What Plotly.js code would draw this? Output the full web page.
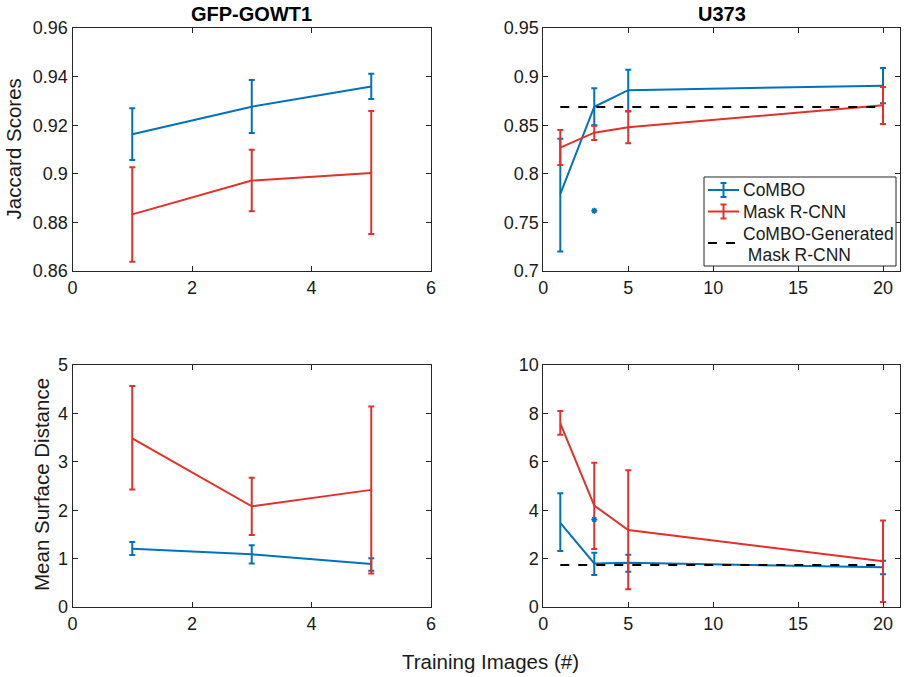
<!DOCTYPE html>
<html>
<head>
<meta charset="utf-8">
<script src="https://cdn.plot.ly/plotly-3.0.1.min.js"></script>
<style>html,body{margin:0;padding:0;background:#fff;}#chart{width:906px;height:677px;}</style>
</head>
<body>
<div id="chart"></div>
<script>
// ---------- data ----------
const panelTitles = ["GFP-GOWT1", "U373"];
const seriesNames = ["CoMBO", "Mask R-CNN", "CoMBO-Generated", " Mask R-CNN"];
const xLabel = "Training Images (#)";
const yLabelJac = "Jaccard Scores";
const yLabelMsd = "Mean Surface Distance";

const xGFP = [1, 3, 5];
const xU373 = [1, 3, 5, 20];

// GFP-GOWT1 Jaccard
const gfpJacCombo   = [0.9163, 0.9276, 0.9359];
const gfpJacComboHi = [0.9270, 0.9386, 0.9412];
const gfpJacComboLo = [0.9057, 0.9168, 0.9308];
const gfpJacMask    = [0.8833, 0.8972, 0.9003];
const gfpJacMaskHi  = [0.9027, 0.9099, 0.9258];
const gfpJacMaskLo  = [0.8638, 0.8846, 0.8752];

// GFP-GOWT1 Mean Surface Distance
const gfpMsdCombo   = [1.205, 1.089, 0.888];
const gfpMsdComboHi = [1.343, 1.275, 1.006];
const gfpMsdComboLo = [1.074, 0.900, 0.750];
const gfpMsdMask    = [3.485, 2.080, 2.420];
const gfpMsdMaskHi  = [4.566, 2.670, 4.140];
const gfpMsdMaskLo  = [2.430, 1.490, 0.690];

// U373 Jaccard
const u373JacCombo   = [0.779, 0.869, 0.886, 0.8906];
const u373JacComboHi = [0.836, 0.888, 0.907, 0.9088];
const u373JacComboLo = [0.720, 0.850, 0.864, 0.8725];
const u373JacMask    = [0.827, 0.8423, 0.8478, 0.8705];
const u373JacMaskHi  = [0.845, 0.8495, 0.8646, 0.8893];
const u373JacMaskLo  = [0.809, 0.8348, 0.8314, 0.8512];
const u373JacGenX    = [1, 20];
const u373JacGenY    = [0.8687, 0.8687];
const u373JacOutX    = [3];
const u373JacOutY    = [0.762];

// U373 Mean Surface Distance
const u373MsdCombo   = [3.48, 1.80, 1.83, 1.64];
const u373MsdComboHi = [4.70, 2.24, 2.16, 1.91];
const u373MsdComboLo = [2.31, 1.32, 1.46, 1.35];
const u373MsdMask    = [7.59, 4.19, 3.18, 1.89];
const u373MsdMaskHi  = [8.10, 5.96, 5.65, 3.57];
const u373MsdMaskLo  = [7.12, 2.40, 0.73, 0.21];
const u373MsdGenX    = [1, 20];
const u373MsdGenY    = [1.74, 1.74];
const u373MsdOutX    = [3];
const u373MsdOutY    = [3.62];

// tick labels
const xTicksGFP = [0, 2, 4, 6];
const xTicksU373 = [0, 5, 10, 15, 20];
const yTicksGfpJac = [0.86, 0.88, 0.90, 0.92, 0.94, 0.96];
const yTickTextGfpJac = ["0.86", "0.88", "0.9", "0.92", "0.94", "0.96"];
const yTicksU373Jac = [0.70, 0.75, 0.80, 0.85, 0.90, 0.95];
const yTickTextU373Jac = ["0.7", "0.75", "0.8", "0.85", "0.9", "0.95"];
const yTicksGfpMsd = [0, 1, 2, 3, 4, 5];
const yTicksU373Msd = [0, 2, 4, 6, 8, 10];

// ---------- styling ----------
const BLUE = "#0072BD";
const RED = "#E3302A";
const FONT = "Liberation Sans, Arial, Helvetica, sans-serif";
const AX = "#262626";

function diff(a, b) { return a.map((v, i) => v - b[i]); }

function errTrace(x, y, hi, lo, color, name, xa, ya) {
  return {
    type: "scatter", mode: "lines", x: x, y: y, name: name,
    xaxis: xa, yaxis: ya, showlegend: false,
    line: {color: color, width: 2},
    error_y: {type: "data", symmetric: false, array: diff(hi, y), arrayminus: diff(y, lo),
              color: color, thickness: 2, width: 3}
  };
}
function dashTrace(x, y, xa, ya) {
  return {type: "scatter", mode: "lines", x: x, y: y, name: seriesNames[2],
          xaxis: xa, yaxis: ya, showlegend: false,
          line: {color: "#000", width: 2, dash: "dash"}};
}
function outTrace(x, y, xa, ya) {
  return {type: "scatter", mode: "markers", x: x, y: y, xaxis: xa, yaxis: ya, showlegend: false,
          marker: {symbol: "asterisk-open", size: 5, color: BLUE, line: {color: BLUE, width: 1.5}}};
}

const traces = [
  errTrace(xGFP, gfpJacCombo, gfpJacComboHi, gfpJacComboLo, BLUE, seriesNames[0], "x", "y"),
  errTrace(xGFP, gfpJacMask, gfpJacMaskHi, gfpJacMaskLo, RED, seriesNames[1], "x", "y"),

  errTrace(xU373, u373JacCombo, u373JacComboHi, u373JacComboLo, BLUE, seriesNames[0], "x2", "y2"),
  errTrace(xU373, u373JacMask, u373JacMaskHi, u373JacMaskLo, RED, seriesNames[1], "x2", "y2"),
  dashTrace(u373JacGenX, u373JacGenY, "x2", "y2"),
  outTrace(u373JacOutX, u373JacOutY, "x2", "y2"),

  errTrace(xGFP, gfpMsdCombo, gfpMsdComboHi, gfpMsdComboLo, BLUE, seriesNames[0], "x3", "y3"),
  errTrace(xGFP, gfpMsdMask, gfpMsdMaskHi, gfpMsdMaskLo, RED, seriesNames[1], "x3", "y3"),

  errTrace(xU373, u373MsdCombo, u373MsdComboHi, u373MsdComboLo, BLUE, seriesNames[0], "x4", "y4"),
  errTrace(xU373, u373MsdMask, u373MsdMaskHi, u373MsdMaskLo, RED, seriesNames[1], "x4", "y4"),
  dashTrace(u373MsdGenX, u373MsdGenY, "x4", "y4"),
  outTrace(u373MsdOutX, u373MsdOutY, "x4", "y4")
];

const W = 906, H = 677;
const px = v => v / W, py = v => 1 - v / H;
const colL = [px(72.5), px(431)], colR = [px(543.3), px(900)];
const rowT = [py(271), py(28)], rowB = [py(607), py(365)];

function ax(extra) {
  return Object.assign({
    showline: true, linecolor: AX, linewidth: 1, mirror: "ticks",
    ticks: "inside", ticklen: 5, tickwidth: 1, tickcolor: AX,
    showgrid: false, zeroline: false, fixedrange: true,
    tickfont: {family: FONT, size: 18, color: "#1a1a1a"}, tickmode: "array"
  }, extra);
}

// ---------- hand-drawn legend (MATLAB style, compact) ----------
function pline(x0, y0, x1, y1, color, dash) {
  return {type: "line", xref: "paper", yref: "paper", x0: px(x0), y0: py(y0), x1: px(x1), y1: py(y1),
          line: {color: color, width: 2, dash: dash || "solid"}};
}
function errGlyph(yc, color) {
  return [
    pline(708, yc, 739, yc, color),
    pline(723.5, yc - 7, 723.5, yc + 7, color),
    pline(720.5, yc - 7, 726.5, yc - 7, color),
    pline(720.5, yc + 7, 726.5, yc + 7, color)
  ];
}
const legendShapes = [
  {type: "rect", xref: "paper", yref: "paper", x0: px(704), y0: py(266), x1: px(896), y1: py(177),
   fillcolor: "#fff", line: {color: AX, width: 1}, layer: "above"},
  ...errGlyph(190, BLUE),
  ...errGlyph(211.5, RED),
  pline(708, 243, 736, 243, "#000", "dash")
];
function legText(t, y) {
  return {text: t, x: px(741), y: py(y), xref: "paper", yref: "paper", xanchor: "left", yanchor: "middle",
          showarrow: false, font: {family: FONT, size: 17.5, color: "#1a1a1a"}};
}

const layout = {
  width: W, height: H,
  margin: {l: 0, r: 0, t: 0, b: 0},
  paper_bgcolor: "#fff", plot_bgcolor: "#fff",
  font: {family: FONT, color: "#1a1a1a"},
  showlegend: false,
  xaxis:  ax({domain: colL, anchor: "y",  range: [0, 6],  tickvals: xTicksGFP}),
  yaxis:  ax({domain: rowT, anchor: "x",  range: [0.86, 0.96], tickvals: yTicksGfpJac, ticktext: yTickTextGfpJac}),
  xaxis2: ax({domain: colR, anchor: "y2", range: [0, 21], tickvals: xTicksU373}),
  yaxis2: ax({domain: rowT, anchor: "x2", range: [0.7, 0.95], tickvals: yTicksU373Jac, ticktext: yTickTextU373Jac}),
  xaxis3: ax({domain: colL, anchor: "y3", range: [0, 6],  tickvals: xTicksGFP}),
  yaxis3: ax({domain: rowB, anchor: "x3", range: [0, 5], tickvals: yTicksGfpMsd}),
  xaxis4: ax({domain: colR, anchor: "y4", range: [0, 21], tickvals: xTicksU373}),
  yaxis4: ax({domain: rowB, anchor: "x4", range: [0, 10], tickvals: yTicksU373Msd}),
  shapes: legendShapes,
  annotations: [
    {text: "<b>" + panelTitles[0] + "</b>", x: (colL[0] + colL[1]) / 2, y: py(14), xref: "paper", yref: "paper",
     xanchor: "center", yanchor: "middle", showarrow: false, font: {family: FONT, size: 20, color: "#000"}},
    {text: "<b>" + panelTitles[1] + "</b>", x: (colR[0] + colR[1]) / 2, y: py(14), xref: "paper", yref: "paper",
     xanchor: "center", yanchor: "middle", showarrow: false, font: {family: FONT, size: 20, color: "#000"}},
    {text: yLabelJac, x: px(13), y: (rowT[0] + rowT[1]) / 2, xref: "paper", yref: "paper", textangle: -90,
     xanchor: "center", yanchor: "middle", showarrow: false, font: {family: FONT, size: 20.5, color: "#1a1a1a"}},
    {text: yLabelMsd, x: px(41), y: py(485), xref: "paper", yref: "paper", textangle: -90,
     xanchor: "center", yanchor: "middle", showarrow: false, font: {family: FONT, size: 20.5, color: "#1a1a1a"}},
    {text: xLabel, x: px(490), y: py(661), xref: "paper", yref: "paper",
     xanchor: "center", yanchor: "middle", showarrow: false, font: {family: FONT, size: 20.5, color: "#1a1a1a"}},
    legText(seriesNames[0], 190),
    legText(seriesNames[1], 211.5),
    legText(seriesNames[2], 233.5),
    legText(seriesNames[3], 255)
  ]
};

Plotly.newPlot("chart", traces, layout, {displayModeBar: false, staticPlot: true});
</script>
</body>
</html>
